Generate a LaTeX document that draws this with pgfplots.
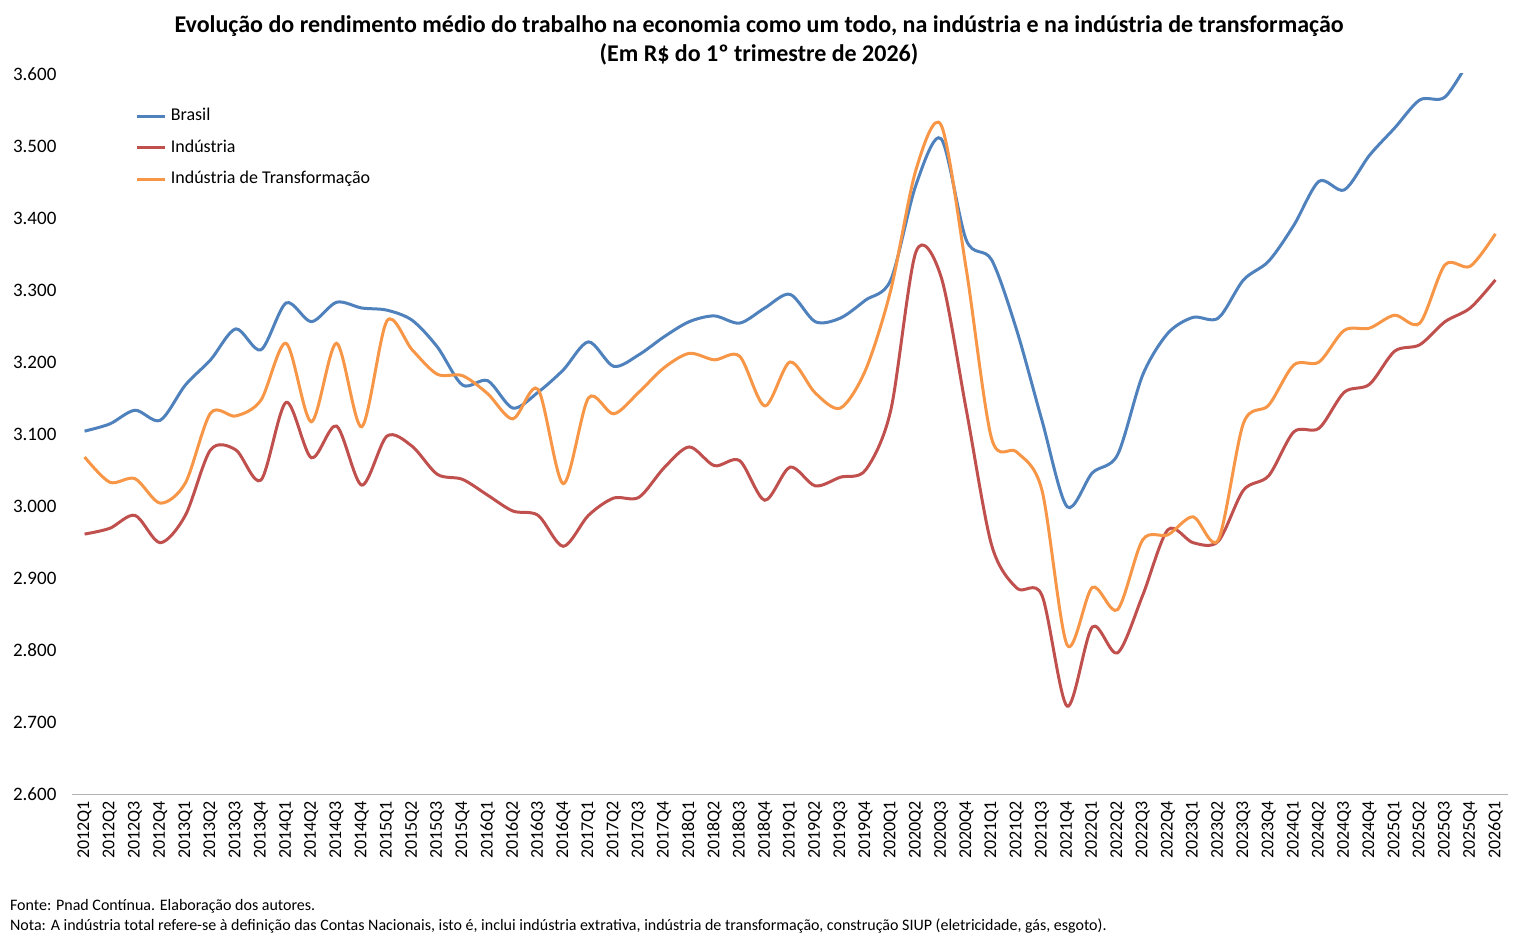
\documentclass[border=0pt]{standalone}
\usepackage{pgfplots}
\pgfplotsset{compat=1.18}
\usepackage{fontspec}
\setmainfont{Carlito}
\definecolor{cb}{HTML}{4F81BD}
\definecolor{cr}{HTML}{C0504D}
\definecolor{co}{HTML}{F79646}
\begin{document}
\begin{tikzpicture}
\path[use as bounding box] (-36pt,-76.5pt) rectangle (723.5pt,397pt);
\begin{axis}[
  at={(0,0)}, anchor=south west,
  scale only axis, width=718pt, height=360pt,
  xmin=-0.5, xmax=56.5, ymin=2600, ymax=3600,
  ytick={2600,2700,...,3600},
  axis y line*=left, y axis line style={draw=none},
  axis x line*=bottom, x axis line style={draw=gray!60},
  ytick style={draw=none}, xtick style={draw=none},
  xtick={0,...,56},
  xticklabels={2012Q1,2012Q2,2012Q3,2012Q4,2013Q1,2013Q2,2013Q3,2013Q4,2014Q1,2014Q2,2014Q3,2014Q4,2015Q1,2015Q2,2015Q3,2015Q4,2016Q1,2016Q2,2016Q3,2016Q4,2017Q1,2017Q2,2017Q3,2017Q4,2018Q1,2018Q2,2018Q3,2018Q4,2019Q1,2019Q2,2019Q3,2019Q4,2020Q1,2020Q2,2020Q3,2020Q4,2021Q1,2021Q2,2021Q3,2021Q4,2022Q1,2022Q2,2022Q3,2022Q4,2023Q1,2023Q2,2023Q3,2023Q4,2024Q1,2024Q2,2024Q3,2024Q4,2025Q1,2025Q2,2025Q3,2025Q4,2026Q1},
  xticklabel style={rotate=90, anchor=east, font=\fontsize{9}{10}\selectfont},
  yticklabel style={anchor=west, xshift=-33pt, font=\fontsize{9.5}{10}\selectfont},
  /pgf/number format/.cd, assume math mode=true, use comma, 1000 sep={.},
  /pgfplots/.cd,
  legend style={at={(0.040,0.964)}, anchor=north west, draw=none, fill=none,
    font=\fontsize{9}{10}\selectfont, row sep=4pt},
  legend cell align=left,
  legend image code/.code={\draw[#1, line width=1.5pt] (0pt,0pt) -- (14pt,0pt);},
  clip=true,
]
\addplot[cb, line width=1.5pt, smooth, tension=0.5] coordinates {
(0,3104)(1,3114)(2,3133)(3,3119)(4,3168)(5,3203)(6,3246)(7,3217)(8,3282)(9,3256)(10,3283)(11,3275)(12,3272)(13,3258)(14,3221)(15,3168)(16,3174)(17,3136)(18,3158)(19,3189)(20,3228)(21,3194)(22,3210)(23,3235)(24,3256)(25,3264)(26,3254)(27,3275)(28,3294)(29,3256)(30,3261)(31,3286)(32,3314)(33,3446)(34,3510)(35,3369)(36,3342)(37,3244)(38,3119)(39,2999)(40,3046)(41,3071)(42,3182)(43,3240)(44,3262)(45,3261)(46,3314)(47,3340)(48,3390)(49,3451)(50,3439)(51,3487)(52,3525)(53,3564)(54,3568)(55,3622)};
\addlegendentry{Brasil}
\addplot[cr, line width=1.5pt, smooth, tension=0.5] coordinates {
(0,2961)(1,2969)(2,2987)(3,2949)(4,2987)(5,3078)(6,3078)(7,3036)(8,3144)(9,3067)(10,3111)(11,3029)(12,3097)(13,3083)(14,3044)(15,3037)(16,3015)(17,2993)(18,2987)(19,2944)(20,2987)(21,3011)(22,3012)(23,3053)(24,3082)(25,3056)(26,3063)(27,3008)(28,3054)(29,3028)(30,3040)(31,3050)(32,3133)(33,3353)(34,3318)(35,3133)(36,2946)(37,2886)(38,2876)(39,2722)(40,2832)(41,2796)(42,2876)(43,2967)(44,2949)(45,2951)(46,3022)(47,3042)(48,3103)(49,3108)(50,3158)(51,3169)(52,3215)(53,3224)(54,3256)(55,3275)(56,3314)};
\addlegendentry{Indústria}
\addplot[co, line width=1.5pt, smooth, tension=0.5] coordinates {
(0,3068)(1,3033)(2,3038)(3,3004)(4,3032)(5,3129)(6,3125)(7,3147)(8,3226)(9,3117)(10,3226)(11,3110)(12,3257)(13,3217)(14,3183)(15,3181)(16,3156)(17,3121)(18,3162)(19,3031)(20,3150)(21,3128)(22,3158)(23,3192)(24,3212)(25,3203)(26,3208)(27,3139)(28,3200)(29,3157)(30,3136)(31,3189)(32,3300)(33,3467)(34,3529)(35,3328)(36,3094)(37,3075)(38,3022)(39,2807)(40,2887)(41,2856)(42,2953)(43,2960)(44,2985)(45,2953)(46,3115)(47,3140)(48,3196)(49,3200)(50,3244)(51,3247)(52,3265)(53,3254)(54,3335)(55,3333)(56,3378)};
\addlegendentry{Indústria de Transformação}
\end{axis}
\node[font=\bfseries\fontsize{12}{14.5}\selectfont, align=center] at (343.5pt,377pt)
  {Evolução do rendimento médio do trabalho na economia como um todo, na indústria e na indústria de transformação\\(Em R\$ do 1º trimestre de 2026)};
\node[anchor=west, font=\fontsize{8}{9}\selectfont] at (-34.5pt,-56pt) {Fonte: Pnad Contínua. Elaboração dos autores.};
\node[anchor=west, font=\fontsize{8}{9}\selectfont] at (-34.5pt,-66pt) {Nota: A indústria total refere-se à definição das Contas Nacionais, isto é, inclui indústria extrativa, indústria de transformação, construção SIUP (eletricidade, gás, esgoto).};
\end{tikzpicture}
\end{document}
